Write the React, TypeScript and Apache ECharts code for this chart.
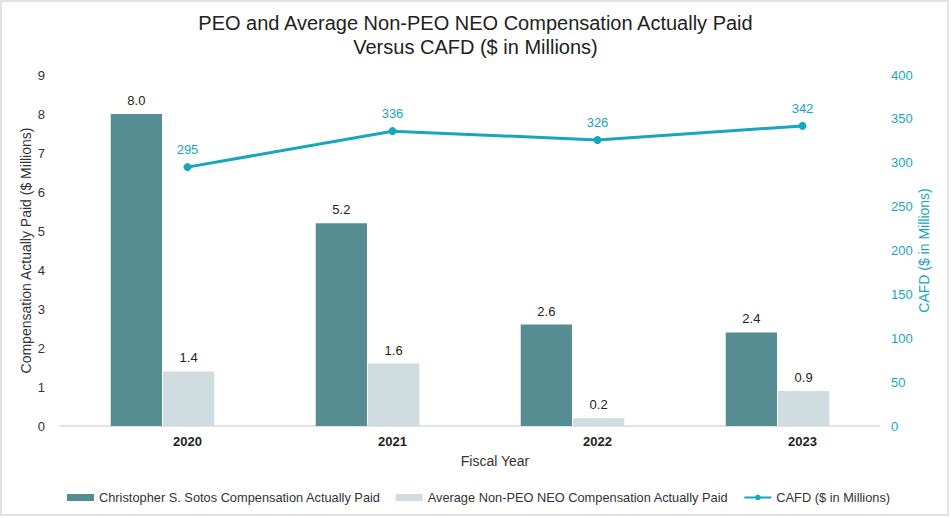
import React, { useEffect, useRef } from "react";
import * as echarts from "echarts";

const categories = ["2020", "2021", "2022", "2023"];
const peoComp = [8.0, 5.2, 2.6, 2.4];
const neoComp = [1.4, 1.6, 0.2, 0.9];
const cafd = [295, 336, 326, 342];
const leftTicks = { min: 0, max: 9, interval: 1 };
const rightTicks = { min: 0, max: 400, interval: 50 };

const FONT = "'Liberation Sans', Arial, sans-serif";
const DARK = "#568D93";
const LIGHT = "#CFDCE0";
const TEAL = "#17A6BE";

export default function App() {
  const ref = useRef<HTMLDivElement>(null);
  useEffect(() => {
    if (!ref.current) return;
    const chart = echarts.init(ref.current, undefined, { renderer: "svg" });
    chart.setOption({
      animation: false,
      backgroundColor: "#ffffff",
      textStyle: { fontFamily: FONT },
      title: {
        text: "PEO and Average Non-PEO NEO Compensation Actually Paid\nVersus CAFD ($ in Millions)",
        left: "center",
        top: 6,
        textStyle: { fontFamily: FONT, fontSize: 20, fontWeight: "normal", color: "#222", lineHeight: 24 },
      },
      graphic: [
        {
          type: "rect",
          shape: { x: 1, y: 1, width: 947, height: 514 },
          style: { fill: "none", stroke: "#E2E2E2", lineWidth: 2 },
          silent: true,
        },
      ],
      legend: {
        left: 67,
        top: 491,
        padding: 0,
        itemGap: 15,
        itemWidth: 27,
        itemHeight: 7,
        textStyle: { fontFamily: FONT, fontSize: 12.8, color: "#333" },
        data: [
          { name: "Christopher S. Sotos Compensation Actually Paid", icon: "rect" },
          { name: "Average Non-PEO NEO Compensation Actually Paid", icon: "rect" },
          { name: "CAFD ($ in Millions)" },
        ],
      },
      grid: [
        { left: 60, right: 71, top: 75, bottom: 92 },
        { left: 85, right: 46, top: 75, bottom: 92 },
      ],
      xAxis: [
        {
          type: "category",
          gridIndex: 0,
          data: categories,
          axisLine: { lineStyle: { color: "#D9D9D9", width: 1.5 } },
          axisTick: { show: false },
          axisLabel: { show: false },
        },
        {
          type: "category",
          gridIndex: 1,
          data: categories,
          axisLine: { show: false },
          axisTick: { show: false },
          axisLabel: { fontFamily: FONT, fontSize: 13, fontWeight: "bold", color: "#222", margin: 9 },
          name: "Fiscal Year",
          nameLocation: "middle",
          nameGap: 28,
          nameTextStyle: { fontFamily: FONT, fontSize: 14, color: "#333" },
        },
      ],
      yAxis: [
        {
          type: "value",
          gridIndex: 0,
          position: "left",
          ...leftTicks,
          splitLine: { show: false },
          axisLine: { show: false },
          axisTick: { show: false },
          axisLabel: { fontFamily: FONT, fontSize: 13, color: "#333", margin: 15 },
          name: "Compensation Actually Paid ($ Millions)",
          nameLocation: "middle",
          nameGap: 27,
          nameMoveOverlap: false,
          nameTextStyle: { fontFamily: FONT, fontSize: 14, color: "#333" },
        },
        {
          type: "value",
          gridIndex: 0,
          position: "right",
          ...rightTicks,
          splitLine: { show: false },
          axisLine: { show: false },
          axisTick: { show: false },
          axisLabel: { fontFamily: FONT, fontSize: 13, color: TEAL, margin: 11 },
          name: "CAFD ($ in Millions)",
          nameLocation: "middle",
          nameGap: 37,
          nameRotate: 90,
          nameMoveOverlap: false,
          nameTextStyle: { fontFamily: FONT, fontSize: 14, color: TEAL },
        },
        {
          type: "value",
          gridIndex: 1,
          ...rightTicks,
          show: false,
          splitLine: { show: false },
        },
      ],
      series: [
        {
          name: "Christopher S. Sotos Compensation Actually Paid",
          type: "bar",
          xAxisIndex: 0,
          yAxisIndex: 0,
          data: peoComp,
          barWidth: "25%",
          barGap: "2%",
          itemStyle: { color: DARK },
          label: {
            show: true,
            position: "top",
            distance: 7,
            color: "#222",
            fontFamily: FONT,
            fontSize: 13,
            formatter: (p: any) => Number(p.value).toFixed(1),
          },
        },
        {
          name: "Average Non-PEO NEO Compensation Actually Paid",
          type: "bar",
          xAxisIndex: 0,
          yAxisIndex: 0,
          data: neoComp,
          barWidth: "25%",
          barGap: "2%",
          itemStyle: { color: LIGHT },
          label: {
            show: true,
            position: "top",
            distance: 7,
            color: "#222",
            fontFamily: FONT,
            fontSize: 13,
            formatter: (p: any) => Number(p.value).toFixed(1),
          },
        },
        {
          name: "CAFD ($ in Millions)",
          type: "line",
          xAxisIndex: 1,
          yAxisIndex: 2,
          data: cafd,
          symbol: "circle",
          symbolSize: 8,
          lineStyle: { color: TEAL, width: 3 },
          itemStyle: { color: TEAL },
          label: {
            show: true,
            position: "top",
            distance: 7,
            color: TEAL,
            fontFamily: FONT,
            fontSize: 13,
          },
        },
      ],
    });
    return () => chart.dispose();
  }, []);
  return (
    <div
      ref={ref}
      style={{ position: "fixed", left: 0, top: 0, width: 951, height: 518 }}
    />
  );
}
